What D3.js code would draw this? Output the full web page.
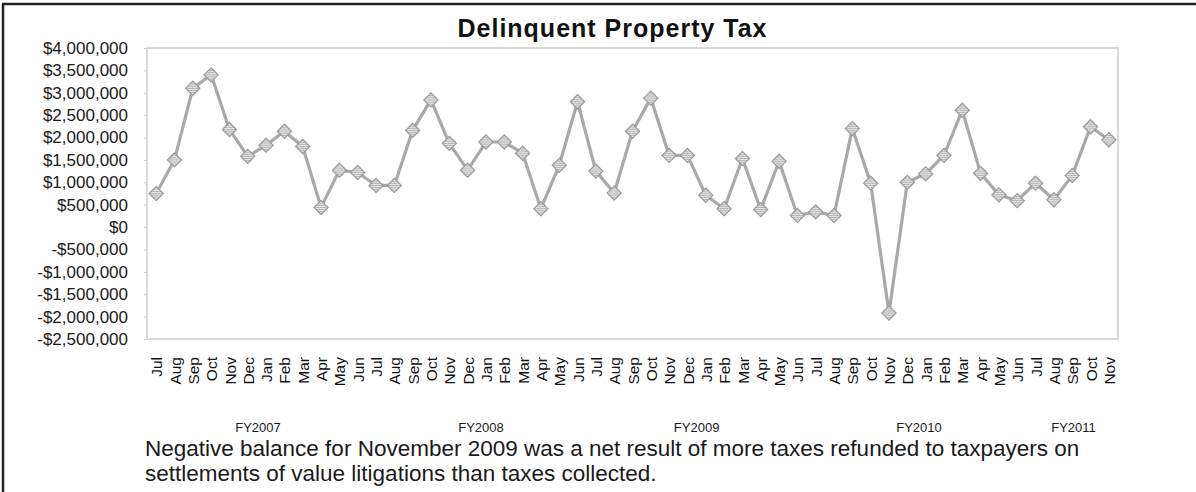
<!DOCTYPE html>
<html>
<head>
<meta charset="utf-8">
<script src="https://cdn.jsdelivr.net/npm/d3@7/dist/d3.min.js"></script>
<style>
  html, body { margin: 0; padding: 0; background: #fff; }
  svg { display: block; font-family: "Liberation Sans", Arial, sans-serif; }
</style>
</head>
<body>
<svg id="chart" width="1196" height="492"></svg>
<script>
// ---- data ----
const months = ["Jul","Aug","Sep","Oct","Nov","Dec","Jan","Feb","Mar","Apr","May","Jun",
                "Jul","Aug","Sep","Oct","Nov","Dec","Jan","Feb","Mar","Apr","May","Jun",
                "Jul","Aug","Sep","Oct","Nov","Dec","Jan","Feb","Mar","Apr","May","Jun",
                "Jul","Aug","Sep","Oct","Nov","Dec","Jan","Feb","Mar","Apr","May","Jun",
                "Jul","Aug","Sep","Oct","Nov"];
const values = [750000,1500000,3100000,3400000,2180000,1580000,1830000,2140000,1800000,440000,1270000,1220000,
                930000,930000,2160000,2840000,1870000,1270000,1900000,1900000,1650000,410000,1380000,2800000,
                1250000,760000,2140000,2880000,1600000,1600000,710000,410000,1530000,390000,1470000,260000,
                340000,260000,2200000,980000,-1920000,1000000,1190000,1600000,2610000,1200000,720000,590000,
                980000,610000,1150000,2240000,1950000];
const yTicks = [4000000,3500000,3000000,2500000,2000000,1500000,1000000,500000,0,
                -500000,-1000000,-1500000,-2000000,-2500000];
const fyLabels = ["FY2007","FY2008","FY2009","FY2010","FY2011"];
const title = "Delinquent Property Tax";
const caption = ["Negative balance for November 2009 was a net result of more taxes refunded to taxpayers on",
                 "settlements of value litigations than taxes collected."];

// ---- layout ----
const W = 1196, H = 492;
const plot = { left: 147, right: 1118, top: 48, bottom: 339 };
const fyAt = [5.56, 17.73, 29.5, 41.64, 50.07]; // label positions in category steps (as drawn in original)

const svg = d3.select("#chart");

// outer frame (top and left edges)
svg.append("line").attr("x1", 2).attr("x2", W).attr("y1", 4).attr("y2", 4)
  .attr("stroke", "#222").attr("stroke-width", 2.5);
svg.append("line").attr("x1", 3).attr("x2", 3).attr("y1", 4).attr("y2", H)
  .attr("stroke", "#222").attr("stroke-width", 2.5);

const idx = months.map((m, i) => i);
const x = d3.scalePoint().domain(idx).range([plot.left, plot.right]).padding(0.5);
const y = d3.scaleLinear().domain([-2500000, 4000000]).range([plot.bottom, plot.top]);
const xi = d3.scaleLinear().domain([0, months.length - 1]).range([x(0), x(months.length - 1)]);

// plot area border
svg.append("rect")
  .attr("x", plot.left).attr("y", plot.top)
  .attr("width", plot.right - plot.left).attr("height", plot.bottom - plot.top)
  .attr("fill", "none").attr("stroke", "#d9d9d9").attr("stroke-width", 2);

// y axis
const fmt = v => (v < 0 ? "-$" : "$") + d3.format(",")(Math.abs(v));
const yAxis = d3.axisLeft(y).tickValues(yTicks).tickFormat(fmt).tickSize(3).tickPadding(16);
const gy = svg.append("g").attr("transform", `translate(${plot.left},0)`).call(yAxis);
gy.select(".domain").remove();
gy.selectAll(".tick line").attr("stroke", "#ccc");
gy.selectAll(".tick text").attr("font-size", 17).attr("fill", "#1a1a1a")
  .attr("font-family", "'Liberation Sans', Arial, sans-serif");

// x axis month labels
const xAxis = d3.axisBottom(x).tickFormat(i => months[i]).tickSize(0).tickPadding(0);
const gx = svg.append("g").attr("transform", `translate(0,${plot.bottom})`).call(xAxis);
gx.select(".domain").remove();
gx.selectAll(".tick text")
  .attr("font-size", 15.5).attr("fill", "#111")
  .attr("font-family", "'Liberation Sans', Arial, sans-serif")
  .attr("text-anchor", "end")
  .attr("transform", "translate(0,18) rotate(-90)")
  .attr("x", 0).attr("y", 0).attr("dy", "0.36em");

// fiscal year labels
svg.append("g").selectAll("text").data(fyLabels).join("text")
  .attr("x", (d, i) => xi(fyAt[i]))
  .attr("y", 432)
  .attr("text-anchor", "middle")
  .attr("font-size", 13).attr("fill", "#1a1a1a")
  .text(d => d);

// title
svg.append("text").attr("x", 612).attr("y", 37).attr("text-anchor", "middle")
  .attr("font-size", 25).attr("font-weight", "bold").attr("fill", "#111")
  .attr("textLength", 309).attr("lengthAdjust", "spacing")
  .text(title);

// caption
svg.append("g").selectAll("text").data(caption).join("text")
  .attr("x", 145).attr("y", (d, i) => 456 + i * 25)
  .attr("font-size", 22.5).attr("fill", "#1a1a1a")
  .text(d => d);

// hatch pattern for markers
const defs = svg.append("defs");
const pat = defs.append("pattern").attr("id", "hatch").attr("patternUnits", "userSpaceOnUse")
  .attr("width", 3).attr("height", 3);
pat.append("rect").attr("width", 3).attr("height", 3).attr("fill", "#e4e4e4");
pat.append("path").attr("d", "M0,3 L3,0").attr("stroke", "#9a9a9a").attr("stroke-width", 0.9);

// line
const line = d3.line().x((d, i) => x(i)).y(d => y(d));
svg.append("path").datum(values)
  .attr("d", line).attr("fill", "none")
  .attr("stroke", "#a9a9a9").attr("stroke-width", 3.2).attr("stroke-linejoin", "round");

// markers
svg.append("g").selectAll("rect").data(values).join("rect")
  .attr("x", -5).attr("y", -5).attr("width", 10).attr("height", 10)
  .attr("transform", (d, i) => `translate(${x(i)},${y(d)}) rotate(45)`)
  .attr("fill", "url(#hatch)").attr("stroke", "#9a9a9a").attr("stroke-width", 1.2);
</script>
</body>
</html>
